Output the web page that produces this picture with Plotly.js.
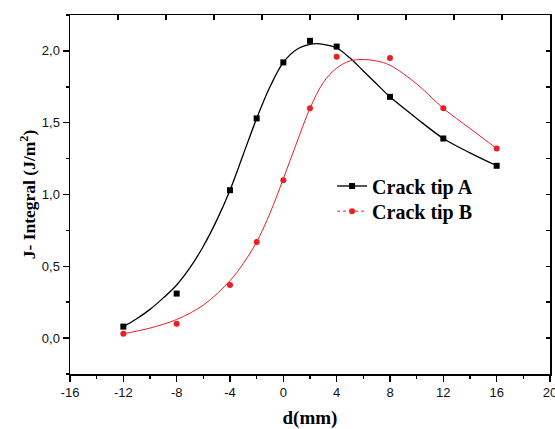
<!DOCTYPE html>
<html>
<head>
<meta charset="utf-8">
<script src="https://cdn.plot.ly/plotly-3.0.1.min.js"></script>
<style>html,body{margin:0;padding:0;background:#fff;}#chart{width:555px;height:429px;}</style>
</head>
<body>
<div id="chart"></div>
<script>
// Measured points
const xPts = [-12, -8, -4, -2, 0, 2, 4, 8, 12, 16];
const tipA = [0.08, 0.31, 1.03, 1.53, 1.92, 2.07, 2.03, 1.68, 1.39, 1.20];
const tipB = [0.03, 0.10, 0.37, 0.67, 1.10, 1.60, 1.96, 1.95, 1.60, 1.32];

// Fitted curves
const fitAx = [-12, -11, -10, -9, -8, -7, -6, -5, -4, -3, -2, -1, 0, 1, 2, 2.5, 3, 4, 5, 6, 7, 8, 10, 12, 14, 16];
const fitAy = [0.08, 0.135, 0.20, 0.28, 0.37, 0.49, 0.64, 0.82, 1.03, 1.28, 1.53, 1.75, 1.92, 2.01, 2.045, 2.05, 2.045, 2.02, 1.95, 1.86, 1.77, 1.68, 1.53, 1.39, 1.29, 1.20];
const fitBx = [-12, -10, -8, -6, -4, -3, -2, -1, 0, 1, 2, 3, 4, 5, 6, 7, 8, 10, 12, 14, 16];
const fitBy = [0.03, 0.07, 0.13, 0.23, 0.40, 0.52, 0.67, 0.87, 1.11, 1.36, 1.60, 1.78, 1.88, 1.93, 1.94, 1.93, 1.90, 1.77, 1.60, 1.46, 1.32];

const xTicks = [-16, -12, -8, -4, 0, 4, 8, 12, 16, 20];
const xTickText = ['-16', '-12', '-8', '-4', '0', '4', '8', '12', '16', '20'];
const yTicks = [0, 0.5, 1.0, 1.5, 2.0];
const yTickText = ['0,0', '0,5', '1,0', '1,5', '2,0'];

const RED = 'rgb(236,30,36)';
const serif = 'Liberation Serif, DejaVu Serif, serif';

const traces = [
  {x: fitAx, y: fitAy, mode: 'lines', line: {color: '#000', width: 1.3, shape: 'spline', smoothing: 1}, showlegend: false, hoverinfo: 'skip'},
  {x: fitBx, y: fitBy, mode: 'lines', line: {color: RED, width: 1, shape: 'spline', smoothing: 1}, showlegend: false, hoverinfo: 'skip'},
  {x: xPts, y: tipA, mode: 'markers', marker: {symbol: 'square', size: 6, color: '#000'}, showlegend: false},
  {x: xPts, y: tipB, mode: 'markers', marker: {symbol: 'circle', size: 6, color: RED}, showlegend: false},
  {x: [null], y: [null], name: '<b>Crack tip A</b>', legend: 'legend', mode: 'lines+markers', line: {color: '#555', width: 2}, marker: {symbol: 'square', size: 6, color: '#000'}},
  {x: [null], y: [null], name: '<b>Crack tip B</b>', legend: 'legend2', mode: 'lines+markers', line: {color: RED, width: 1, dash: 'dot'}, marker: {symbol: 'circle', size: 6, color: RED}},
  {x: [null], y: [null], xaxis: 'x2', yaxis: 'y2', showlegend: false, mode: 'markers'}
];

const legendFont = {family: serif, size: 20, color: '#000'};
const layout = {
  width: 555, height: 429,
  margin: {l: 70, r: 5, t: 15, b: 55},
  paper_bgcolor: '#fff', plot_bgcolor: '#fff',
  separators: ',.',
  showlegend: true,
  legend: {x: 0.546, y: 0.578, xanchor: 'left', yanchor: 'top', bgcolor: 'rgba(0,0,0,0)', font: legendFont},
  legend2: {x: 0.546, y: 0.508, xanchor: 'left', yanchor: 'top', bgcolor: 'rgba(0,0,0,0)', font: legendFont},
  xaxis: {
    range: [-16, 20], tickvals: xTicks, ticktext: xTickText, ticklabeloverflow: 'allow',
    ticks: 'outside', ticklen: 6, tickwidth: 1.5, tickcolor: '#000',
    minor: {dtick: 2, tick0: 0, ticks: 'outside', ticklen: 3, tickwidth: 1.5, tickcolor: '#000'},
    showline: true, linecolor: '#000', linewidth: 1.5,
    showgrid: false, zeroline: false,
    tickfont: {family: 'Liberation Sans, Arial, sans-serif', size: 13, color: '#111'},
    title: {text: '<b>d(mm)</b>', font: {family: serif, size: 19, color: '#000'}, standoff: 13}
  },
  yaxis: {
    range: [-0.25, 2.25], tickvals: yTicks, ticktext: yTickText,
    ticks: 'outside', ticklen: 6, tickwidth: 1.5, tickcolor: '#000',
    minor: {dtick: 0.25, tick0: 0, ticks: 'outside', ticklen: 3, tickwidth: 1.5, tickcolor: '#000'},
    showline: true, linecolor: '#000', linewidth: 1.5,
    showgrid: false, zeroline: false,
    tickfont: {family: 'Liberation Sans, Arial, sans-serif', size: 13, color: '#111'},
    title: {text: '<b>J- Integral (J/m<sup>2</sup>)</b>', font: {family: serif, size: 17.5, color: '#000'}, standoff: 1}
  },
  xaxis2: {
    overlaying: 'x', side: 'top', range: [0, 10], tickvals: [1,2,3,4,5,6,7,8,9],
    ticks: 'inside', ticklen: 5, tickwidth: 1.5, tickcolor: '#000',
    showticklabels: false, showline: true, linecolor: '#000', linewidth: 1.5,
    showgrid: false, zeroline: false
  },
  yaxis2: {
    overlaying: 'y', side: 'right', range: [-0.25, 2.25], dtick: 0.25, tick0: 0,
    ticks: 'inside', ticklen: 4, tickwidth: 1.5, tickcolor: '#000',
    showticklabels: false, showline: true, linecolor: '#000', linewidth: 1.5,
    showgrid: false, zeroline: false
  }
};

Plotly.newPlot('chart', traces, layout, {displayModeBar: false, staticPlot: true});
</script>
</body>
</html>
